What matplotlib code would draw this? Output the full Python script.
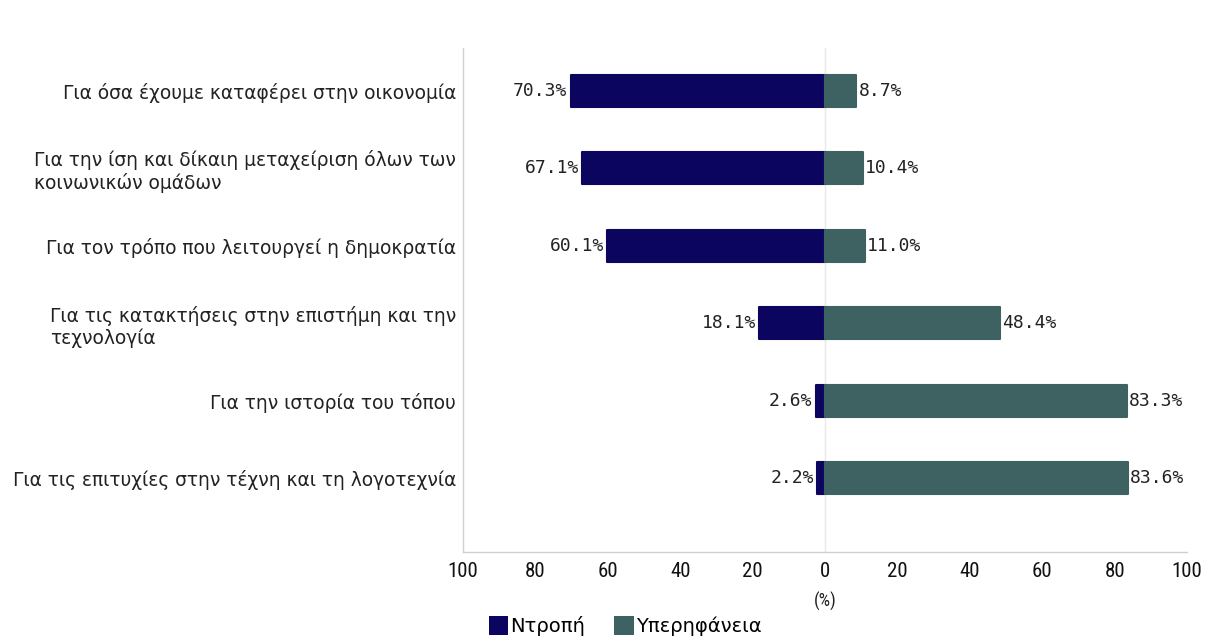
import matplotlib
matplotlib.use("Agg")
import matplotlib.pyplot as plt
from matplotlib.patches import Patch
from matplotlib import font_manager

categories = [
    "Για όσα έχουμε καταφέρει στην οικονομία",
    "Για την ίση και δίκαιη μεταχείριση όλων των\nκοινωνικών ομάδων",
    "Για τον τρόπο που λειτουργεί η δημοκρατία",
    "Για τις κατακτήσεις στην επιστήμη και την\nτεχνολογία",
    "Για την ιστορία του τόπου",
    "Για τις επιτυχίες στην τέχνη και τη λογοτεχνία",
]
shame = [70.3, 67.1, 60.1, 18.1, 2.6, 2.2]
pride = [8.7, 10.4, 11.0, 48.4, 83.3, 83.6]
xticks = [-100, -80, -60, -40, -20, 0, 20, 40, 60, 80, 100]
xticklabels = ["100", "80", "60", "40", "20", "0", "20", "40", "60", "80", "100"]
series_names = ["Ντροπή", "Υπερηφάνεια"]

c_shame = "#0b0560"
c_pride = "#3e6262"

# find a condensed font if available
names = {f.name for f in font_manager.fontManager.ttflist}
cond = "DejaVu Sans"
for cand in ["Roboto Condensed", "Liberation Sans Narrow", "DejaVu Sans Condensed", "Open Sans Condensed"]:
    if cand in names:
        cond = cand
        break
condfam = [cond, "DejaVu Sans"]

fig = plt.figure(figsize=(12.24, 6.39), dpi=100)
ax = fig.add_axes([463/1224, 1-552/639, (1187-463)/1224, (552-48)/639])

y = list(range(len(categories)))
b1 = ax.barh(y, [-v for v in shame], height=0.415, color=c_shame, edgecolor=c_shame,
             linewidth=1.5, zorder=3)
b2 = ax.barh(y, pride, height=0.415, color=c_pride, edgecolor=c_pride,
             linewidth=1.5, zorder=3)
for p in list(b1) + list(b2):
    p.set_joinstyle("round")

numfont = dict(family=["DejaVu Sans Mono", "DejaVu Sans"], fontsize=13, color="#222222")
for yi, s, p in zip(y, shame, pride):
    ax.text(-s - 0.9, yi, f"{s:.1f}%", ha="right", va="center", **numfont)
    ax.text(p + 0.6, yi, f"{p:.1f}%", ha="left", va="center", **numfont)

ax.set_xlim(-100, 100)
ax.set_ylim(5.95, -0.55)
ax.axvline(0, color="#e8e8e8", linewidth=1, zorder=1)

ax.set_yticks(y)
ax.set_yticklabels(categories, fontsize=13.4, color="#222222", multialignment="left",
                   family=["DejaVu Sans"])
ax.set_xticks(xticks)
ax.set_xticklabels(xticklabels, fontsize=15, color="#111111", family=condfam)
ax.tick_params(axis="both", length=0)
ax.tick_params(axis="y", pad=5)
ax.tick_params(axis="x", pad=7)
ax.set_xlabel("(%)", fontsize=13, color="#222222", labelpad=8, family=condfam)

for side in ["top", "right"]:
    ax.spines[side].set_visible(False)
for side in ["left", "bottom"]:
    ax.spines[side].set_color("#d0d0d0")
    ax.spines[side].set_linewidth(1)

handles = [Patch(facecolor=c_shame, edgecolor="none"), Patch(facecolor=c_pride, edgecolor="none")]
fig.legend(handles, series_names, loc="lower left", bbox_to_anchor=(489/1224, 0.004),
           ncol=2, frameon=False, prop=dict(family=["DejaVu Sans"], size=14),
           handlelength=1.0, handleheight=1.1, borderpad=0,
           handletextpad=0.1, columnspacing=1.5, borderaxespad=0)

fig.savefig("out.png", dpi=100, facecolor="white")
